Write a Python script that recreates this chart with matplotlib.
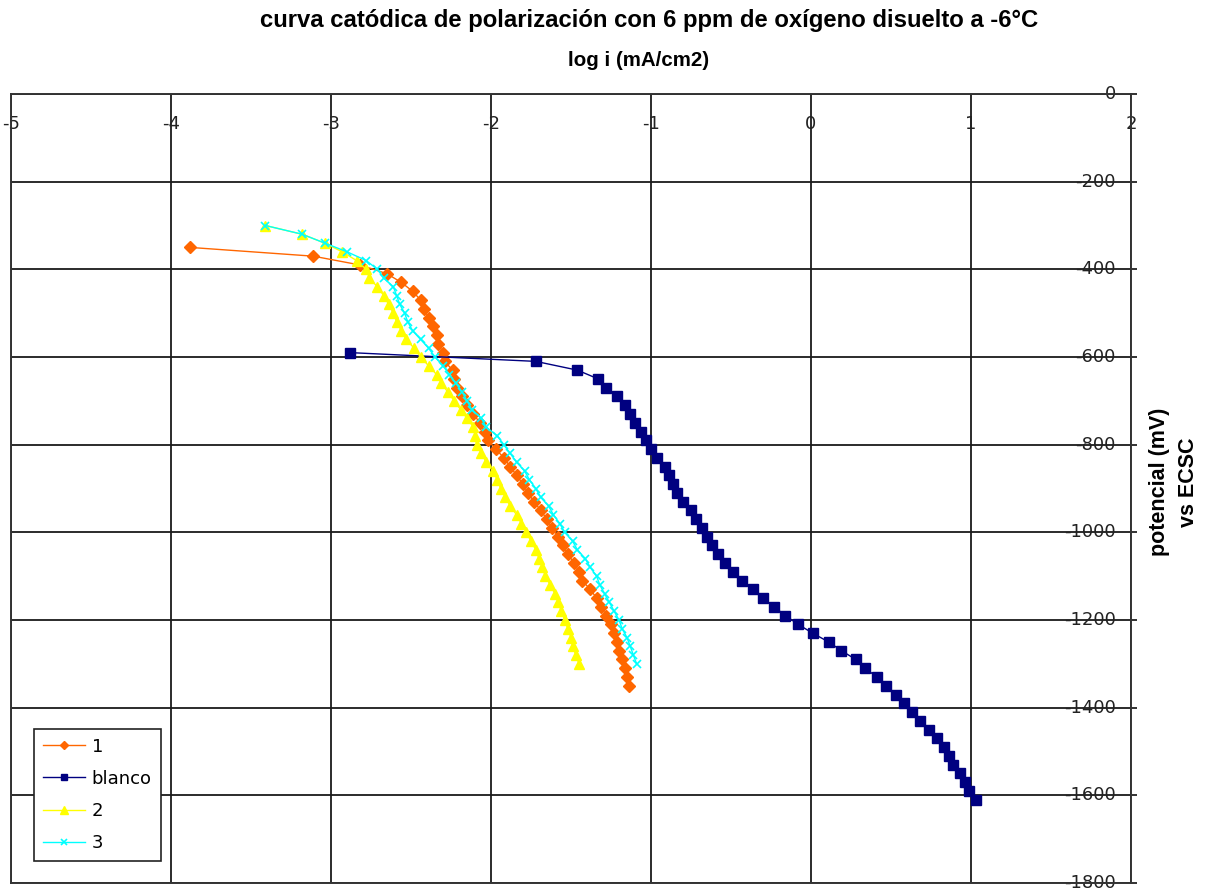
import numpy as np
import matplotlib
matplotlib.use("Agg")
import matplotlib.pyplot as plt

plt.rcParams['font.family'] = ['DejaVu Sans']
plt.rcParams['axes.unicode_minus'] = False

# potential (mV) vs log i (mA/cm2) for each run
pot_1 = np.arange(-350, -1351, -20)
logi_1 = [-3.88, -3.11, -2.82, -2.65, -2.56, -2.49, -2.44, -2.42, -2.39, -2.36,
          -2.34, -2.33, -2.30, -2.29, -2.24, -2.23, -2.21, -2.18, -2.15, -2.11,
          -2.07, -2.04, -2.02, -1.97, -1.92, -1.88, -1.84, -1.80, -1.77, -1.73,
          -1.69, -1.65, -1.62, -1.58, -1.55, -1.52, -1.48, -1.45, -1.43, -1.38,
          -1.34, -1.31, -1.28, -1.25, -1.23, -1.21, -1.20, -1.18, -1.16, -1.15,
          -1.14]

pot_blanco = np.arange(-590, -1611, -20)
logi_blanco = [-2.88, -1.72, -1.46, -1.33, -1.28, -1.21, -1.16, -1.13, -1.10, -1.06,
               -1.03, -1.00, -0.96, -0.91, -0.89, -0.86, -0.84, -0.80, -0.75, -0.72,
               -0.68, -0.65, -0.62, -0.58, -0.54, -0.49, -0.43, -0.36, -0.30, -0.23,
               -0.16, -0.08, 0.01, 0.11, 0.19, 0.28, 0.34, 0.41, 0.47, 0.53,
               0.58, 0.63, 0.68, 0.74, 0.79, 0.83, 0.86, 0.89, 0.93, 0.96,
               0.99, 1.03]

pot_2 = np.arange(-300, -1301, -20)
logi_2 = [-3.41, -3.18, -3.04, -2.93, -2.84, -2.78, -2.76, -2.71, -2.67, -2.64,
          -2.61, -2.59, -2.56, -2.53, -2.48, -2.44, -2.39, -2.34, -2.31, -2.27,
          -2.23, -2.19, -2.15, -2.11, -2.10, -2.09, -2.06, -2.03, -1.99, -1.96,
          -1.94, -1.91, -1.88, -1.84, -1.81, -1.78, -1.75, -1.72, -1.70, -1.68,
          -1.66, -1.63, -1.60, -1.58, -1.56, -1.54, -1.52, -1.50, -1.49, -1.47,
          -1.45]

pot_3 = np.arange(-300, -1301, -20)
logi_3 = [-3.41, -3.18, -3.04, -2.90, -2.78, -2.71, -2.67, -2.61, -2.59, -2.57,
          -2.54, -2.52, -2.49, -2.44, -2.39, -2.35, -2.30, -2.26, -2.22, -2.18,
          -2.15, -2.12, -2.06, -2.03, -1.96, -1.92, -1.88, -1.84, -1.79, -1.76,
          -1.72, -1.69, -1.64, -1.61, -1.57, -1.54, -1.49, -1.46, -1.41, -1.38,
          -1.34, -1.32, -1.29, -1.26, -1.23, -1.20, -1.18, -1.15, -1.13, -1.11,
          -1.09]

x_ticks = [-5, -4, -3, -2, -1, 0, 1, 2]
y_ticks = list(range(0, -1801, -200))

fig = plt.figure(figsize=(12.08, 8.91), dpi=100)
ax = fig.add_axes([11 / 1208, 1 - 883 / 891, 1120 / 1208, 789 / 891])

ax.plot(logi_1, pot_1, color='#FF6600', lw=1, marker='D', ms=6,
        mec='#FF6600', label='1')
ax.plot(logi_blanco, pot_blanco, color='#000080', lw=1, marker='s', ms=6.5,
        mec='#000080', label='blanco')
ax.plot(logi_2, pot_2, color='#FFFF00', lw=1, marker='^', ms=7.5,
        mec='#FFFF00', label='2')
ax.plot(logi_3, pot_3, color='#00FFFF', lw=1, marker='x', ms=6, mew=1.2,
        label='3')

ax.set_xlim(-5, 2)
ax.set_ylim(-1800, 0)
ax.set_xticks(x_ticks)
ax.set_yticks(y_ticks)
ax.grid(True, color='#1a1a1a', lw=1.3)
ax.set_axisbelow(True)
for s in ax.spines.values():
    s.set_color('#333333')
    s.set_linewidth(1.4)

# x labels hang just under the top edge, y labels sit inside the right edge
ax.xaxis.tick_top()
ax.tick_params(axis='x', length=0, pad=-28, labelsize=13, colors='#222222')
ax.yaxis.tick_right()
ax.tick_params(axis='y', direction='out', length=4, width=1.3, pad=-15,
               labelsize=13, colors='#222222')
for lbl in ax.get_yticklabels():
    lbl.set_horizontalalignment('right')
    lbl.set_verticalalignment('center')

bold = dict(family=['Liberation Sans', 'DejaVu Sans'], fontweight='bold')
fig.text(649 / 1208, 1 - 20 / 891,
         'curva catódica de polarización con 6 ppm de oxígeno disuelto a -6°C',
         ha='center', va='center', fontsize=17.2, **bold)
fig.text(639 / 1208, 1 - 61 / 891, 'log i (mA/cm2)', ha='center', va='center',
         fontsize=14.8, **bold)
fig.text(1174 / 1208, 1 - 482 / 891, 'potencial (mV)\nvs ECSC', rotation=90,
         ha='center', va='center', multialignment='center', fontsize=15.5,
         linespacing=1.45, **bold)

leg = ax.legend(loc='lower left', bbox_to_anchor=(23 / 1120, 22 / 789),
                borderaxespad=0, fontsize=13, fancybox=False, framealpha=1,
                edgecolor='#222222', markerscale=0.7, handlelength=2.3,
                handletextpad=0.4, labelspacing=0.78, borderpad=0.5)
leg.get_frame().set_linewidth(1.2)

fig.savefig('out.png', dpi=100)
